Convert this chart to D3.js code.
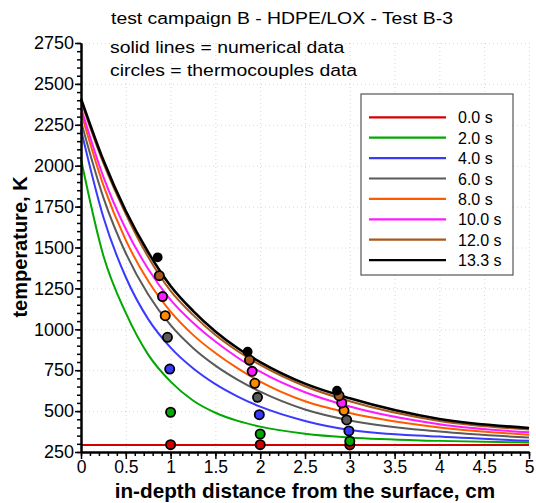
<!DOCTYPE html>
<html>
<head>
<meta charset="utf-8">
<script src="https://cdn.jsdelivr.net/npm/d3@7"></script>
<style>
    body { margin: 0; background: #fff; }
    svg { font-family: "Liberation Sans", Arial, sans-serif; }
    .grid line { stroke: #d8d8d8; stroke-dasharray: 1,3; }
    .grid path { display: none; }
</style>
</head>
<body>
<div id="chart"></div>
<script>
// depths (cm) where the numerical curves were read
var depthGrid = [0, 0.25, 0.5, 0.75, 1, 1.25, 1.5, 1.75, 2, 2.5, 3, 4, 5];

var seriesNames = ["0.0 s", "2.0 s", "4.0 s", "6.0 s", "8.0 s", "10.0 s", "12.0 s", "13.3 s"];

// numerical temperature, K
var temp_0s  = [293, 293, 293, 293, 293, 293, 293, 293, 293, 293, 293, 293, 293];
var temp_2s  = [2040, 1450, 1100, 845, 680, 565, 490, 440, 405, 362, 338, 318, 308];
var temp_4s  = [2220, 1685, 1318, 1062, 888, 762, 665, 589, 527, 440, 385, 344, 319];
var temp_6s  = [2270, 1805, 1465, 1213, 1025, 886, 778, 691, 619, 510, 443, 375, 338];
var temp_8s  = [2325, 1880, 1545, 1295, 1108, 966, 855, 761, 680, 560, 488, 400, 356];
var temp_10s = [2355, 1932, 1613, 1369, 1180, 1040, 925, 826, 741, 615, 528, 420, 370];
var temp_12s = [2395, 2015, 1705, 1442, 1235, 1088, 965, 866, 782, 652, 560, 440, 388];
var temp_13s = [2410, 2033, 1723, 1471, 1265, 1113, 987, 884, 800, 668, 578, 452, 397];

// thermocouples: depth (cm) and temperature (K)
var tcDepth_0s  = [1.0, 2.0, 3.0];
var tcTemp_0s   = [295, 295, 293];
var tcDepth_2s  = [1.0, 2.0, 3.0];
var tcTemp_2s   = [493, 360, 316];
var tcDepth_4s  = [0.99, 1.99, 2.99];
var tcTemp_4s   = [757, 478, 379];
var tcDepth_6s  = [0.965, 1.97, 2.965];
var tcTemp_6s   = [951, 584, 446];
var tcDepth_8s  = [0.94, 1.94, 2.935];
var tcTemp_8s   = [1083, 670, 503];
var tcDepth_10s = [0.91, 1.91, 2.91];
var tcTemp_10s  = [1200, 743, 550];
var tcDepth_12s = [0.874, 1.88, 2.88];
var tcTemp_12s  = [1328, 812, 594];
var tcDepth_13s = [0.856, 1.86, 2.857];
var tcTemp_13s  = [1440, 863, 625];

var xTicks = [0, 0.5, 1, 1.5, 2, 2.5, 3, 3.5, 4, 4.5, 5];
var yTicks = [250, 500, 750, 1000, 1250, 1500, 1750, 2000, 2250, 2500, 2750];

// styles
var lineColors   = ["#d40000", "#00a800", "#3a3aff", "#5a5a5a", "#ff5a00", "#ff1aff", "#a8581a", "#000000"];
var circleColors = ["#d40000", "#00a800", "#3a3aff", "#5a5a5a", "#ff8a00", "#ff1aff", "#a8581a", "#000000"];

var temps    = [temp_0s, temp_2s, temp_4s, temp_6s, temp_8s, temp_10s, temp_12s, temp_13s];
var tcDepths = [tcDepth_0s, tcDepth_2s, tcDepth_4s, tcDepth_6s, tcDepth_8s, tcDepth_10s, tcDepth_12s, tcDepth_13s];
var tcTemps  = [tcTemp_0s, tcTemp_2s, tcTemp_4s, tcTemp_6s, tcTemp_8s, tcTemp_10s, tcTemp_12s, tcTemp_13s];

// text that is a bit wider than the font draws it
function addText(svg, x, y, str, size, stretch, anchor, weight) {
    return svg.append("text")
        .attr("transform", "translate(" + x + "," + y + ") scale(" + stretch + ",1)")
        .attr("text-anchor", anchor)
        .attr("font-size", size)
        .attr("font-weight", weight)
        .text(str);
}

function drawChart() {
    const width = 536;
    const height = 503;
    const left = 81, right = 529, top = 43, bottom = 452;

    const xScale = d3.scaleLinear().domain([0, 5]).range([left, right]);
    const yScale = d3.scaleLinear().domain([250, 2750]).range([bottom, top]);

    var svg = d3.select("#chart")
        .append("svg")
        .attr("width", width)
        .attr("height", height)
        .attr("viewBox", "0 0 " + width + " " + height);

    // dotted grid
    svg.append("g")
        .attr("class", "grid")
        .attr("transform", "translate(0," + bottom + ")")
        .call(d3.axisBottom(xScale).tickValues(xTicks).tickSize(-(bottom - top)).tickFormat(""));
    svg.append("g")
        .attr("class", "grid")
        .attr("transform", "translate(" + left + ",0)")
        .call(d3.axisLeft(yScale).tickValues(yTicks).tickSize(-(right - left)).tickFormat(""));

    // numerical curves
    var line = d3.line()
        .x((d) => xScale(d[0]))
        .y((d) => yScale(d[1]))
        .curve(d3.curveMonotoneX);

    temps.forEach(function(series, i) {
        svg.append("path")
            .datum(depthGrid.map((x, j) => [x, series[j]]))
            .attr("d", line)
            .attr("fill", "none")
            .attr("stroke", lineColors[i])
            .attr("stroke-width", i == 7 ? 2.6 : 2);
    });

    // thermocouple circles
    tcDepths.forEach(function(depths, i) {
        svg.selectAll("circle.tc" + i)
            .data(depths.map((x, j) => [x, tcTemps[i][j]]))
            .enter()
            .append("circle")
            .attr("class", "tc" + i)
            .attr("cx", (d) => xScale(d[0]))
            .attr("cy", (d) => yScale(d[1]))
            .attr("r", i == 7 ? 4 : 4.6)
            .attr("fill", circleColors[i])
            .attr("stroke", "#000")
            .attr("stroke-width", 1.8);
    });

    // axes
    var xMinor = d3.range(0, 51).map((d) => d / 10);
    var yMinor = d3.range(250, 2751, 50);

    svg.append("g")
        .attr("transform", "translate(0," + bottom + ")")
        .call(d3.axisBottom(xScale).tickValues(xMinor).tickSize(4).tickFormat(""))
        .call((g) => g.selectAll("line").attr("stroke-width", 1.5));
    var xAxis = svg.append("g")
        .attr("transform", "translate(0," + bottom + ")")
        .call(d3.axisBottom(xScale).tickValues(xTicks).tickSize(7).tickSizeOuter(0).tickPadding(2)
            .tickFormat(d3.format("")));
    xAxis.select(".domain").attr("stroke-width", 2.5);
    xAxis.selectAll("line").attr("stroke-width", 1.5);
    xAxis.selectAll("text").attr("font-size", 17.5).attr("fill", "#000");

    svg.append("g")
        .attr("transform", "translate(" + left + ",0)")
        .call(d3.axisLeft(yScale).tickValues(yMinor).tickSize(4).tickFormat(""))
        .call((g) => g.selectAll("line").attr("stroke-width", 1.5));
    var yAxis = svg.append("g")
        .attr("transform", "translate(" + left + ",0)")
        .call(d3.axisLeft(yScale).tickValues(yTicks).tickSize(6).tickSizeOuter(0).tickPadding(1)
            .tickFormat(d3.format("d")));
    yAxis.select(".domain").attr("stroke-width", 2.5);
    yAxis.selectAll("line").attr("stroke-width", 1.5);
    yAxis.selectAll("text").attr("font-size", 18).attr("fill", "#000");

    // titles
    addText(svg, 282, 24, "test campaign B - HDPE/LOX - Test B-3", 17, 1.14, "middle", "normal");
    addText(svg, 110, 53, "solid lines = numerical data", 17, 1.14, "start", "normal");
    addText(svg, 110, 76, "circles = thermocouples data", 17, 1.14, "start", "normal");

    addText(svg, 305, 498, "in-depth distance from the surface, cm", 20, 1.035, "middle", "bold");

    svg.append("text")
        .attr("transform", "translate(27,247) rotate(-90)")
        .attr("text-anchor", "middle")
        .attr("font-size", 20)
        .attr("font-weight", "bold")
        .text("temperature, K");

    // legend
    var legend = svg.append("g");
    legend.append("rect")
        .attr("x", 361).attr("y", 94)
        .attr("width", 152).attr("height", 181)
        .attr("fill", "#fff")
        .attr("stroke", "#555")
        .attr("stroke-width", 1.2);

    var rows = legend.selectAll("g.row")
        .data(seriesNames)
        .enter()
        .append("g")
        .attr("class", "row")
        .attr("transform", (d, i) => "translate(0," + (117.3 + i * 20.4) + ")");
    rows.append("line")
        .attr("x1", 369).attr("x2", 446)
        .attr("stroke", (d, i) => lineColors[i])
        .attr("stroke-width", 2.2);
    rows.append("text")
        .attr("x", 458).attr("y", 6)
        .attr("font-size", 16)
        .text((d) => d);
}

drawChart();
</script>
</body>
</html>
